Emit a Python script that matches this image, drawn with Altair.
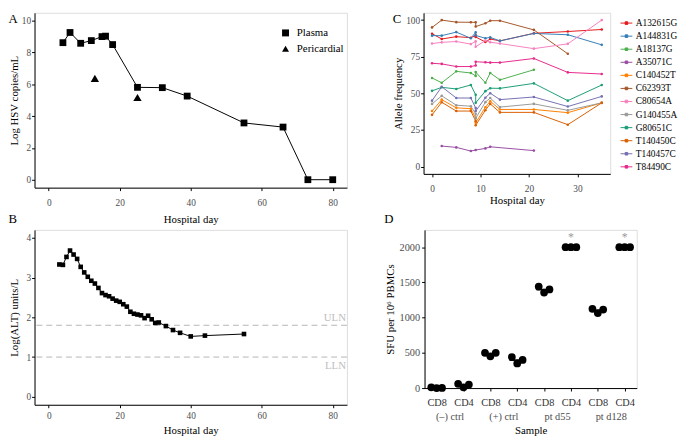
import altair as alt
import pandas as pd

FONT = "Liberation Serif"

# ---------------- Panel A: HSV viral load ----------------
plasma_day = [4, 6, 9, 12, 15, 16, 18, 25, 32, 39, 55, 66, 73, 80]
plasma_log = [8.62, 9.26, 8.58, 8.75, 9.0, 9.03, 8.5, 5.81, 5.79, 5.26, 3.57, 3.31, 0, 0]
peri_day = [13, 25]
peri_log = [6.37, 5.17]

# ---------------- Panel B: ALT ----------------
alt_day = [3, 4, 5, 6, 7, 8, 9, 10, 11, 12, 13, 14, 15, 16, 17, 18, 19, 20, 21, 22,
           23, 24, 25, 26, 27, 28, 29, 30, 31, 33, 35, 37, 40, 44, 55]
alt_log = [3.33, 3.32, 3.52, 3.68, 3.58, 3.47, 3.27, 3.13, 3.02, 2.92, 2.85, 2.74, 2.61,
           2.56, 2.53, 2.47, 2.42, 2.39, 2.33, 2.27, 2.14, 2.09, 2.07, 2.05, 1.98, 2.04,
           1.95, 1.86, 1.87, 1.78, 1.68, 1.61, 1.52, 1.54, 1.58]
ref_names = ["ULN", "LLN"]
ref_vals = [1.8, 1.0]

# ---------------- Panel C: allele frequency ----------------
day_c = [0, 2, 5, 8, 9, 9, 11, 12, 14, 21, 28, 35]
variants = {
    "A132615G": [90.7, 87.1, 88.7, 88.0, 89.5, 88.5, 85.0, 87.1, 85.8, 91.0, 92.2, 93.6],
    "A144831G": [89.4, 89.4, 91.8, 87.6, 91.6, 89.5, 87.6, 88.2, 85.8, 90.9, 90.0, 83.1],
    "A18137G": [60.5, 57.2, 65.0, 63.9, 61.9, 64.5, 57.2, 63.9, 59.2, 66.1, None, None],
    "A35071C": [None, 14.0, 13.1, 10.6, 11.3, None, 12.4, 13.5, None, 10.9, None, None],
    "C140452T": [37.9, 45.7, 40.1, 39.5, 33.0, 30.0, 40.5, 44.6, 39.0, 39.0, 36.8, 43.5],
    "C62393T": [95.0, 100.0, 98.6, 98.5, 98.5, 95.6, 97.8, 99.6, 99.6, 93.3, 77.0, None],
    "C80654A": [84.0, 84.8, 85.4, 83.6, 85.5, 81.8, 86.0, 84.9, 84.0, 80.5, 83.8, 100.0],
    "G140455A": [42.8, 48.3, 41.9, 41.2, 36.0, 33.0, 44.0, 46.8, 40.6, 42.8, 38.4, 43.5],
    "G80651C": [51.7, 54.1, 53.0, 55.7, 49.0, 43.5, 51.5, 53.5, 53.4, 56.8, 45.0, 55.7],
    "T140450C": [35.3, 43.9, 37.9, 37.9, 31.0, 28.2, 38.5, 42.8, 37.0, 37.0, 28.6, 43.5],
    "T140457C": [45.0, 54.5, 46.8, 46.8, 40.0, 37.9, 47.0, 50.1, 45.7, 47.5, 41.0, 47.9],
    "T84490C": [70.5, 70.1, 68.3, 68.3, 69.0, 71.6, 71.2, 71.0, 71.0, 73.8, 64.3, 63.2],
}
variant_colors = ["#E41A1C", "#377EB8", "#4DAF4A", "#984EA3", "#FF7F00", "#A65628",
                  "#F781BF", "#999999", "#1B9E77", "#D95F02", "#7570B3", "#E7298A"]

# ---------------- Panel D: ELISpot ----------------
d_groups = ["(–) ctrl", "(+) ctrl", "pt d55", "pt d128"]
d_values = [
    [10, 0, 2],
    [60, 10, 50],
    [500, 450, 500],
    [440, 350, 400],
    [1440, 1355, 1400],
    [2000, 2000, 2000],
    [1125, 1065, 1115],
    [2000, 2000, 2000],
]
d_jitter = [-0.2, 0.0, 0.2]
star_idx = [6, 8]

# ---------------- helpers ----------------
LABEL_GREY = "#4D4D4D"


def letter(t, offset=-13):
    return alt.TitleParams(t, anchor="start", frame="bounds", fontSize=13,
                           fontWeight="normal", font=FONT, color="black", offset=offset)


def axis(**kw):
    base = dict(labelFont=FONT, titleFont=FONT, labelColor=LABEL_GREY, titleColor="black",
                labelFontSize=9.5, titleFontSize=11, titleFontWeight="normal",
                domainColor="black", tickColor="black", tickSize=3, labelPadding=1,
                grid=False, domainWidth=1, tickWidth=1, titlePadding=2, labelOverlap=False)
    base.update(kw)
    return alt.Axis(**base)


# ---------------- Panel A chart ----------------
dfA = pd.DataFrame({
    "dayA": plasma_day + peri_day,
    "logA": plasma_log + peri_log,
    "src": ["Plasma"] * len(plasma_day) + ["Pericardial"] * len(peri_day),
})
xA = alt.X("dayA:Q", scale=alt.Scale(domain=[-4, 84], nice=False, zero=False),
           axis=axis(values=[0, 20, 40, 60, 80], title="Hospital day",
                     labelPadding=7, titlePadding=7))
yA = alt.Y("logA:Q", scale=alt.Scale(domain=[-0.5, 10.5], nice=False, zero=False),
           axis=axis(values=[0, 2, 4, 6, 8, 10], title="Log HSV copies/mL"))
shapeA = alt.Shape("src:N", scale=alt.Scale(domain=["Plasma", "Pericardial"],
                                            range=["square", "triangle-up"]),
                   legend=alt.Legend(title=None, orient="none", legendX=250, legendY=15,
                                     labelFont=FONT, labelFontSize=11, labelColor="black",
                                     symbolFillColor="black", symbolStrokeColor="black",
                                     symbolSize=50, labelOffset=6, rowPadding=2, padding=0))
lineA = alt.Chart(dfA).transform_filter("datum.src == 'Plasma'").mark_line(
    color="black", strokeWidth=1).encode(x=xA, y=yA)
sqA = alt.Chart(dfA).transform_filter("datum.src == 'Plasma'").mark_point(
    filled=True, opacity=1, color="black", size=48).encode(x=xA, y=yA, shape=shapeA)
triA = alt.Chart(dfA).transform_filter("datum.src == 'Pericardial'").mark_point(
    filled=True, opacity=1, color="black", size=72).encode(x=xA, y=yA, shape=shapeA)
chartA = alt.layer(lineA, sqA, triA).properties(width=318, height=178, title=letter("A"))

# ---------------- Panel B chart ----------------
dfB = pd.DataFrame({"dayB": alt_day, "logB": alt_log})
dfRef = pd.DataFrame({"ref": ref_names, "logB": ref_vals})
xB = alt.X("dayB:Q", scale=alt.Scale(domain=[-4, 84], nice=False, zero=False),
           axis=axis(values=[0, 20, 40, 60, 80], title="Hospital day",
                     labelPadding=3, titlePadding=5))
yB = alt.Y("logB:Q", scale=alt.Scale(domain=[-0.2, 4.2], nice=False, zero=False),
           axis=axis(values=[0, 1, 2, 3, 4], title="Log(ALT) units/L", titlePadding=6.75))
rulesB = alt.Chart(dfRef).mark_rule(color="#B5B5B5", strokeDash=[6, 4], strokeWidth=1).encode(
    y=yB)
ulnB = alt.Chart(dfRef).transform_filter("datum.ref == 'ULN'").mark_text(
    align="right", baseline="bottom", dy=-2, dx=-1, color="#BDBDBD", font=FONT, fontSize=11
).encode(x=alt.value(318), y=yB, text="ref:N")
llnB = alt.Chart(dfRef).transform_filter("datum.ref == 'LLN'").mark_text(
    align="right", baseline="top", dy=3, dx=-1, color="#BDBDBD", font=FONT, fontSize=11
).encode(x=alt.value(318), y=yB, text="ref:N")
lineB = alt.Chart(dfB).mark_line(color="black", strokeWidth=1).encode(x=xB, y=yB)
ptsB = alt.Chart(dfB).mark_square(size=22, opacity=1, color="black").encode(x=xB, y=yB)
chartB = alt.layer(lineB, rulesB, ulnB, llnB, ptsB).properties(
    width=318, height=178, title=letter("B", 4))

# ---------------- Panel C chart ----------------
rows = []
for name, vals in variants.items():
    for i, (d, v) in enumerate(zip(day_c, vals)):
        if v is not None:
            rows.append({"variant": name, "dayC": d, "af": v, "seq": i})
dfC = pd.DataFrame(rows)
names = list(variants.keys())
SYM = "M-1,0L1,0M-0.22,-0.22L0.22,-0.22L0.22,0.22L-0.22,0.22Z"
colorC = alt.Color("variant:N", scale=alt.Scale(domain=names, range=variant_colors),
                   legend=alt.Legend(title=None, orient="none", legendX=200, legendY=4,
                                     symbolType=SYM, symbolSize=144, symbolStrokeWidth=1,
                                     labelFont=FONT, labelFontSize=9.5, labelColor="black",
                                     labelOffset=3, rowPadding=2.3, padding=0))
xC = alt.X("dayC:Q", scale=alt.Scale(domain=[-1.75, 36.75], nice=False, zero=False),
           axis=axis(values=[0, 10, 20, 30], title="Hospital day", labelPadding=7, titlePadding=2))
yC = alt.Y("af:Q", scale=alt.Scale(domain=[-5, 105], nice=False, zero=False),
           axis=axis(values=[0, 25, 50, 75, 100], title="Allele frequency"))
lineC = alt.Chart(dfC).mark_line(strokeWidth=1).encode(x=xC, y=yC, color=colorC,
                                                        order=alt.Order("seq:Q"))
ptsC = alt.Chart(dfC).mark_circle(size=7, opacity=1).encode(x=xC, y=yC, color=colorC)
chartC = alt.layer(lineC, ptsC).properties(width=190, height=164, title=letter("C"))

# ---------------- Panel D chart ----------------
drows = []
for gi, vals in enumerate(d_values):
    for j, v in enumerate(vals):
        drows.append({"idx": gi + 1, "xD": gi + 1 + d_jitter[j], "vD": v})
dfD = pd.DataFrame(drows)
dfStar = pd.DataFrame({"xD": star_idx, "vD": [2000] * len(star_idx)})
dfGrp = pd.DataFrame({"xD": [1.5, 3.5, 5.5, 7.5], "grp": d_groups})
cell_expr = "datum.value % 2 == 1 ? 'CD8' : 'CD4'"
D_H = 161
xD = alt.X("xD:Q", scale=alt.Scale(domain=[0.55, 8.45], nice=False, zero=False),
           axis=axis(values=[1, 2, 3, 4, 5, 6, 7, 8], labelExpr=cell_expr, title="Sample",
                     labelFontSize=10.5, labelPadding=7, titlePadding=17,
                     labelColor="#333333", tickCount=8))
yD = alt.Y("vD:Q", scale=alt.Scale(domain=[0, 2245], nice=False, zero=False),
           axis=axis(values=[0, 500, 1000, 1500, 2000], title="SFU per 10⁶ PBMCs", format="d",
                     labelFontSize=10.5, labelPadding=2, titlePadding=4, tickCount=5))
ptsD = alt.Chart(dfD).mark_circle(size=62, opacity=1, color="black").encode(x=xD, y=yD)
meanD = alt.Chart(dfD).transform_aggregate(vD="mean(vD)", groupby=["idx"]).transform_calculate(
    xD="datum.idx - 0.29", xD2="datum.idx + 0.29"
).mark_rule(color="black", strokeWidth=1.5).encode(x=xD, x2="xD2:Q", y=yD)
starD = alt.Chart(dfStar).mark_text(text="*", color="#9A9A9A", font=FONT, fontSize=12, dy=-10).encode(
    x=xD, y=yD)
grpD = alt.Chart(dfGrp).mark_text(color=LABEL_GREY, font=FONT, fontSize=10.5, baseline="middle").encode(
    x=xD, y=alt.value(D_H + 29), text="grp:N")
chartD = alt.layer(ptsD, meanD, starD, grpD).properties(width=216, height=D_H, title=letter("D", 4))

top = alt.hconcat(chartA, chartC, spacing=45).resolve_scale(
    x="independent", y="independent", color="independent", shape="independent")
bottom = alt.hconcat(chartB, chartD, spacing=36).resolve_scale(x="independent", y="independent")

chart = alt.vconcat(top, bottom, spacing=-13).resolve_scale(
    x="independent", y="independent", color="independent", shape="independent"
).properties(padding={"left": 0, "top": 0, "right": 0, "bottom": 0}).configure_view(
    stroke=None
).configure_axis(labelOverlap=False).configure(font=FONT)

chart.save("out.html", embed_options={"renderer": "svg", "actions": False})
